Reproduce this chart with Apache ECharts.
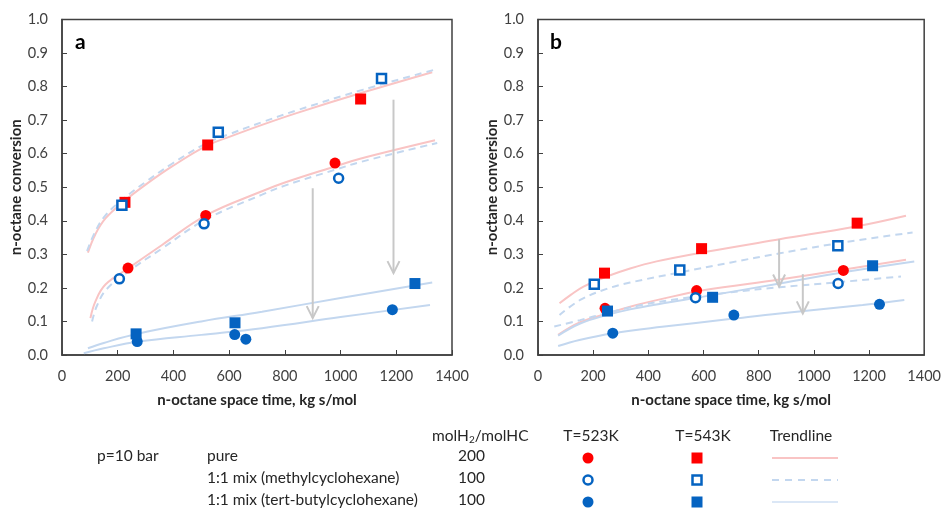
<!DOCTYPE html>
<html style="height: 100%">
<head>
    <meta charset="utf-8">
    <title>n-octane conversion</title>
    <script type="text/javascript" src="https://cdn.jsdelivr.net/npm/echarts@6/dist/echarts.min.js"></script>
    <style>
        html, body { margin: 0; padding: 0; background: #fff; }
        #main { width: 944px; height: 509px; }
    </style>
</head>
<body>
<div id="main"></div>
<script type="text/javascript">
    // ---- data ----
    var xTicks = [0, 200, 400, 600, 800, 1000, 1200, 1400];
    var yTicks = ['0.0', '0.1', '0.2', '0.3', '0.4', '0.5', '0.6', '0.7', '0.8', '0.9', '1.0'];

    // panel a : measured points [space time, conversion]
    var aPure523 = [[237, 0.259], [516, 0.416], [980, 0.572]];
    var aPure543 = [[226, 0.455], [523, 0.626], [1072, 0.763]];
    var aMch523 = [[206, 0.227], [510, 0.391], [993, 0.527]];
    var aMch543 = [[215, 0.446], [561, 0.664], [1147, 0.824]];
    var aTb523 = [[270, 0.040], [620, 0.061], [660, 0.047], [1186, 0.135]];
    var aTb543 = [[266, 0.063], [621, 0.096], [1267, 0.213]];

    // panel a : trendlines
    var aTrPure543 = [[93, 0.305], [120, 0.36], [156, 0.407], [221, 0.457], [299, 0.507], [395, 0.562], [520, 0.624], [603, 0.651], [718, 0.686], [842, 0.721], [1082, 0.783], [1329, 0.843]];
    var aTrMch543 = [[90, 0.31], [120, 0.369], [156, 0.416], [221, 0.466], [299, 0.515], [395, 0.57], [520, 0.632], [603, 0.659], [718, 0.694], [842, 0.729], [1082, 0.791], [1345, 0.852]];
    var aTrPure523 = [[102, 0.11], [120, 0.16], [156, 0.21], [239, 0.259], [359, 0.328], [514, 0.415], [718, 0.488], [800, 0.514], [980, 0.562], [1070, 0.585], [1339, 0.64]];
    var aTrMch523 = [[108, 0.1], [125, 0.146], [160, 0.196], [240, 0.25], [360, 0.318], [514, 0.403], [718, 0.478], [800, 0.505], [980, 0.552], [1070, 0.575], [1347, 0.632]];
    var aTrTb543 = [[93, 0.02], [150, 0.036], [275, 0.064], [500, 0.1], [718, 0.129], [1000, 0.17], [1329, 0.216]];
    var aTrTb523 = [[78, 0.005], [150, 0.02], [275, 0.04], [500, 0.06], [718, 0.08], [1000, 0.113], [1321, 0.149]];

    // panel a : arrows [x, from, to]
    var aArrows = [[900, 0.497, 0.11], [1190, 0.761, 0.244]];

    // panel b : measured points
    var bPure523 = [[243, 0.139], [575, 0.192], [1107, 0.252]];
    var bPure543 = [[241, 0.244], [593, 0.317], [1157, 0.393]];
    var bMch523 = [[571, 0.171], [1088, 0.213]];
    var bMch543 = [[204, 0.211], [514, 0.253], [1087, 0.326]];
    var bTb523 = [[271, 0.065], [710, 0.119], [1238, 0.151]];
    var bTb543 = [[252, 0.131], [633, 0.172], [1213, 0.266]];

    // panel b : trendlines
    var bTrPure543 = [[78, 0.154], [120, 0.18], [165, 0.204], [249, 0.234], [334, 0.258], [430, 0.279], [599, 0.306], [876, 0.345], [1153, 0.383], [1334, 0.415]];
    var bTrMch543 = [[78, 0.119], [153, 0.164], [249, 0.197], [334, 0.216], [514, 0.246], [700, 0.276], [876, 0.303], [1117, 0.337], [1358, 0.365]];
    var bTrPure523 = [[73, 0.06], [153, 0.098], [249, 0.123], [334, 0.144], [454, 0.168], [599, 0.193], [876, 0.225], [1105, 0.254], [1334, 0.284]];
    var bTrMch523 = [[59, 0.085], [153, 0.104], [249, 0.125], [370, 0.148], [514, 0.168], [700, 0.187], [876, 0.202], [1088, 0.217], [1316, 0.234]];
    var bTrTb543 = [[73, 0.058], [153, 0.094], [249, 0.119], [334, 0.136], [454, 0.154], [599, 0.174], [876, 0.213], [1117, 0.248], [1364, 0.279]];
    var bTrTb523 = [[73, 0.027], [150, 0.045], [273, 0.065], [450, 0.084], [695, 0.107], [876, 0.124], [1177, 0.149], [1328, 0.164]];

    var bArrows = [[874, 0.345, 0.204], [960, 0.241, 0.124]];

    // legend table
    var legendRows = [
        { label: 'pure', ratio: '200' },
        { label: '1:1 mix (methylcyclohexane)', ratio: '100' },
        { label: '1:1 mix (tert-butylcyclohexane)', ratio: '100' }
    ];

    // ---- styles ----
    var RED = '#ff0000';
    var BLUE = '#0563c1';
    var PINK = '#f9c4c4';
    var LBLUE = '#c3d7ef';
    var FONT = 'Lato, "Open Sans", sans-serif';
    var AXIS = '#404040';

    var chartDom = document.getElementById('main');
    var myChart = echarts.init(chartDom);

    function xAxisCfg(gi) {
        return {
            gridIndex: gi, type: 'value', min: 0, max: 1400, interval: 200,
            name: 'n-octane space time, kg s/mol', nameLocation: 'middle', nameGap: 38,
            nameTextStyle: { fontFamily: FONT, fontSize: 15, fontWeight: 'bold', color: '#262626' },
            axisLine: { show: true, lineStyle: { color: AXIS, width: 1.5 } },
            axisTick: { show: true, inside: true, length: 5, lineStyle: { color: AXIS } },
            axisLabel: {
                margin: 14, fontFamily: FONT, fontSize: 14.5, color: '#404040',
                formatter: function (v) { return xTicks.indexOf(v) >= 0 ? String(v) : ''; }
            },
            splitLine: { show: false }
        };
    }

    function yAxisCfg(gi) {
        return {
            gridIndex: gi, type: 'value', min: 0, max: 1, interval: 0.1,
            name: 'n-octane conversion', nameLocation: 'middle', nameGap: 38,
            nameTextStyle: { fontFamily: FONT, fontSize: 15, fontWeight: 'bold', color: '#262626' },
            axisLine: { show: true, lineStyle: { color: AXIS, width: 1.5 } },
            axisTick: { show: true, inside: true, length: 5, lineStyle: { color: AXIS } },
            axisLabel: {
                margin: 14, fontFamily: FONT, fontSize: 14.5, color: '#404040',
                formatter: function (v) { return yTicks[Math.round(v * 10)]; }
            },
            splitLine: { show: false }
        };
    }

    function trend(gi, data, color, dashed) {
        return {
            type: 'line', xAxisIndex: gi, yAxisIndex: gi, data: data,
            smooth: 0.4, showSymbol: false, silent: true, z: 2,
            lineStyle: { color: color, width: 2, type: dashed ? [7, 5] : 'solid' }
        };
    }

    function pts(gi, data, symbol, fill, border) {
        return {
            type: 'scatter', xAxisIndex: gi, yAxisIndex: gi, data: data,
            symbol: symbol, symbolSize: border ? 9 : 11, z: 5,
            itemStyle: { color: fill, opacity: 1, borderColor: border || fill, borderWidth: border ? 2.5 : 0 }
        };
    }

    function arrows(gi, data) {
        return {
            type: 'custom', xAxisIndex: gi, yAxisIndex: gi, data: data, z: 3, silent: true,
            encode: { x: 0, y: [1, 2] },
            renderItem: function (params, api) {
                var p1 = api.coord([api.value(0), api.value(1)]);
                var p2 = api.coord([api.value(0), api.value(2)]);
                var st = { stroke: '#c8c8c8', lineWidth: 2, fill: null };
                return {
                    type: 'group',
                    children: [
                        { type: 'line', shape: { x1: p1[0], y1: p1[1], x2: p2[0], y2: p2[1] }, style: st },
                        { type: 'polyline', shape: { points: [[p2[0] - 6, p2[1] - 12], [p2[0], p2[1]], [p2[0] + 6, p2[1] - 12]] }, style: st }
                    ]
                };
            }
        };
    }

    // legend table built with graphic elements
    var graphics = [];
    var txt = { fontFamily: FONT, fontSize: 15.5, fill: '#262626' };
    function addText(x, y, s, align) {
        graphics.push({ type: 'text', x: x, y: y, style: Object.assign({ text: s, textAlign: align || 'left', textVerticalAlign: 'middle' }, txt) });
    }
    graphics.push({ type: 'text', x: 75, y: 42, style: { text: 'a', fontFamily: FONT, fontSize: 21, fontWeight: 'bold', fill: '#000', textVerticalAlign: 'middle' } });
    graphics.push({ type: 'text', x: 550, y: 42, style: { text: 'b', fontFamily: FONT, fontSize: 21, fontWeight: 'bold', fill: '#000', textVerticalAlign: 'middle' } });
    graphics.push({ type: 'text', x: 432, y: 436, style: { rich: { n: { fontFamily: FONT, fontSize: 15.5, fill: '#262626' }, s: { fontFamily: FONT, fontSize: 10, fill: '#262626', padding: [8, 0, 0, 0] } }, text: '{n|molH}{s|2}{n|/molHC}', textVerticalAlign: 'middle' } });
    addText(591, 436, 'T=523K', 'center');
    addText(703, 436, 'T=543K', 'center');
    addText(801, 436, 'Trendline', 'center');
    addText(97, 456, 'p=10 bar');
    var rowY = [456, 478, 500];
    var colFill = [[RED, RED], ['#fff', BLUE], [BLUE, BLUE]];
    var lineStyles = [[PINK, 'solid'], [LBLUE, [7, 6]], ['#dbe7f6', 'solid']];
    for (var i = 0; i < legendRows.length; i++) {
        var y = rowY[i];
        addText(207, y, legendRows[i].label);
        addText(458, y, legendRows[i].ratio);
        var open = i === 1;
        graphics.push({ type: 'circle', shape: { cx: 588, cy: y + 2, r: open ? 4.5 : 5.5 },
            style: { fill: colFill[i][0], stroke: colFill[i][1], lineWidth: open ? 2.5 : 0 } });
        var sz = open ? 9 : 11;
        graphics.push({ type: 'rect', shape: { x: 697 - sz / 2, y: y + 2 - sz / 2, width: sz, height: sz },
            style: { fill: colFill[i][0], stroke: colFill[i][1], lineWidth: open ? 2.5 : 0 } });
        graphics.push({ type: 'line', shape: { x1: 772, y1: y + 2, x2: 838, y2: y + 2 },
            style: { stroke: lineStyles[i][0], lineWidth: 2, lineDash: lineStyles[i][1] === 'solid' ? null : lineStyles[i][1] } });
    }

    var option = {
        backgroundColor: '#fff',
        animation: false,
        grid: [
            { left: 62, top: 19.5, width: 390, height: 335.5, show: true, borderColor: AXIS, borderWidth: 1.5 },
            { left: 538, top: 19.5, width: 387, height: 335.5, show: true, borderColor: AXIS, borderWidth: 1.5 }
        ],
        xAxis: [xAxisCfg(0), xAxisCfg(1)],
        yAxis: [yAxisCfg(0), yAxisCfg(1)],
        graphic: graphics,
        series: [
            trend(0, aTrPure543, PINK, false),
            trend(0, aTrMch543, LBLUE, true),
            trend(0, aTrPure523, PINK, false),
            trend(0, aTrMch523, LBLUE, true),
            trend(0, aTrTb543, LBLUE, false),
            trend(0, aTrTb523, LBLUE, false),
            arrows(0, aArrows),
            pts(0, aPure523, 'circle', RED),
            pts(0, aPure543, 'rect', RED),
            pts(0, aMch523, 'circle', '#fff', BLUE),
            pts(0, aMch543, 'rect', '#fff', BLUE),
            pts(0, aTb523, 'circle', BLUE),
            pts(0, aTb543, 'rect', BLUE),

            trend(1, bTrPure543, PINK, false),
            trend(1, bTrMch543, LBLUE, true),
            trend(1, bTrPure523, PINK, false),
            trend(1, bTrMch523, LBLUE, true),
            trend(1, bTrTb543, LBLUE, false),
            trend(1, bTrTb523, LBLUE, false),
            arrows(1, bArrows),
            pts(1, bPure523, 'circle', RED),
            pts(1, bPure543, 'rect', RED),
            pts(1, bMch523, 'circle', '#fff', BLUE),
            pts(1, bMch543, 'rect', '#fff', BLUE),
            pts(1, bTb523, 'circle', BLUE),
            pts(1, bTb543, 'rect', BLUE)
        ]
    };

    myChart.setOption(option);
</script>
</body>
</html>
